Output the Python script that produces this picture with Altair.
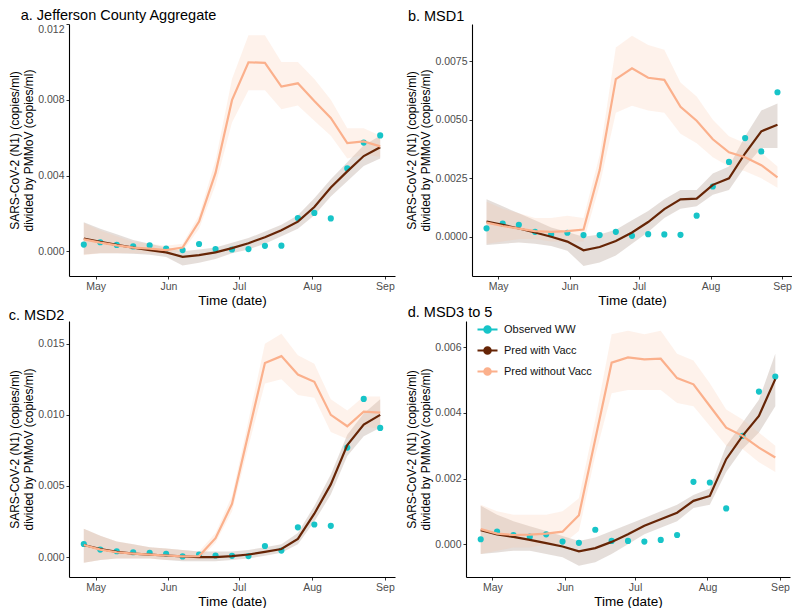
import altair as alt
import pandas as pd

dates = ["2021-04-26", "2021-05-03", "2021-05-10", "2021-05-17", "2021-05-24",
         "2021-05-31", "2021-06-07", "2021-06-14", "2021-06-21", "2021-06-28",
         "2021-07-05", "2021-07-12", "2021-07-19", "2021-07-26", "2021-08-02",
         "2021-08-09", "2021-08-16", "2021-08-23", "2021-08-30"]

series_names = ["Observed WW", "Pred with Vacc", "Pred without Vacc"]
series_colors = ["#17C4C8", "#662506", "#FBB08C"]
band_names = ["Pred with Vacc", "Pred without Vacc"]
band_colors = ["#8A6A58", "#FBC3A3"]

# ---- a. Jefferson County Aggregate
a_obs = [0.00036, 0.00048, 0.00034, 0.00026, 0.00032, 0.00015, 0.00007, 0.00039, 0.00012, 0.0001,
         0.00012, 0.00029, 0.0003, 0.00176, 0.00203, 0.00174, 0.00438, 0.00574, 0.00612]
a_with = [0.00068, 0.0005, 0.00034, 0.0002, 0.00007, -0.00005, -0.00029, -0.0002, -0.00005, 0.00017,
          0.00043, 0.00075, 0.00111, 0.00157, 0.00234, 0.00337, 0.00422, 0.00503, 0.0055]
a_with_lo = [-0.00017, -0.0001, -0.0001, -0.00012, -0.00018, -0.0003, -0.00075, -0.0006, -0.0004, -0.0001,
             0.0001, 0.0004, 0.0008, 0.0012, 0.0019, 0.0029, 0.0037, 0.0045, 0.0049]
a_with_hi = [0.00154, 0.0012, 0.0009, 0.0006, 0.0004, 0.0002, 0.0, 0.0001, 0.0002, 0.00045,
             0.0007, 0.00105, 0.0014, 0.0019, 0.0028, 0.0038, 0.0047, 0.0056, 0.0061]
a_wo = [0.00063, 0.00046, 0.00032, 0.0002, 0.00014, 0.00007, 0.0002, 0.00157, 0.00414, 0.00798,
        0.00998, 0.00995, 0.0087, 0.00887, 0.00793, 0.00704, 0.00571, 0.0058, 0.00554]
a_wo_lo = [-0.0002, -0.0001, -0.0001, -0.0001, -0.0001, -0.0001, 0.0, 0.0012, 0.0035, 0.0068,
           0.0085, 0.0085, 0.0075, 0.0077, 0.0069, 0.0061, 0.0049, 0.0051, 0.0050]
a_wo_hi = [0.0015, 0.0011, 0.0008, 0.0005, 0.0004, 0.0003, 0.0004, 0.0019, 0.0048, 0.0091,
           0.0114, 0.0114, 0.0100, 0.0100, 0.0091, 0.0080, 0.0065, 0.0065, 0.0061]

# ---- b. MSD1
b_obs = [0.00036, 0.00056, 0.00051, 0.00021, 0.00011, 0.00017, 0.00007, 0.00007, 0.00021, 0.00004,
         0.00011, 0.0001, 0.00008, 0.0009, 0.00215, 0.0032, 0.00422, 0.00365, 0.00618]
b_with = [0.00065, 0.00051, 0.00035, 0.00018, 0.0, -0.00021, -0.00058, -0.00044, -0.00018, 0.00018,
          0.00063, 0.00118, 0.0016, 0.00163, 0.00222, 0.0025, 0.00357, 0.00451, 0.00479]
b_with_lo = [-0.00035, -0.0003, -0.00025, -0.0003, -0.0004, -0.0006, -0.00125, -0.0011, -0.0008, -0.0003,
             0.0002, 0.0008, 0.0012, 0.0013, 0.0018, 0.0020, 0.0030, 0.0038, 0.0038]
b_with_hi = [0.0016, 0.0013, 0.001, 0.0007, 0.0004, 0.0002, 0.0, 0.0001, 0.0003, 0.0007,
             0.0011, 0.0016, 0.0020, 0.0020, 0.0027, 0.0030, 0.0043, 0.0054, 0.0057]
b_wo = [0.0006, 0.00046, 0.00035, 0.00024, 0.00021, 0.00024, 0.00031, 0.00285, 0.00674, 0.0072,
        0.0068, 0.00671, 0.00556, 0.00496, 0.00417, 0.00361, 0.0034, 0.00306, 0.00254]
b_wo_lo = [-0.0003, -0.0002, -0.0001, -0.0001, -0.0002, -0.0002, -0.0002, 0.0022, 0.0053, 0.0056,
           0.0054, 0.0053, 0.0044, 0.0040, 0.0034, 0.0030, 0.0028, 0.0025, 0.0021]
b_wo_hi = [0.0015, 0.0012, 0.0010, 0.0008, 0.0008, 0.0009, 0.0008, 0.0035, 0.0081, 0.0086,
           0.0082, 0.0080, 0.0066, 0.0060, 0.0050, 0.0043, 0.0040, 0.0036, 0.0030]

# ---- c. MSD2
c_obs = [0.00092, 0.00053, 0.00041, 0.00034, 0.0003, 0.00023, 0.00005, 0.00018, 0.00011, 0.00009,
         0.00007, 0.00078, 0.00046, 0.00209, 0.00229, 0.0022, 0.0077, 0.01112, 0.00908]
c_with = [0.00085, 0.00057, 0.00037, 0.00025, 0.00018, 0.00011, 0.00005, 0.0, 0.0, 0.00007,
          0.00018, 0.00037, 0.00057, 0.00128, 0.00305, 0.00511, 0.00787, 0.00931, 0.0100]
c_with_lo = [-0.0004, -0.0002, -0.0001, -0.0001, -0.0001, -0.0002, -0.0003, -0.0003, -0.0003, -0.0002,
             -0.0001, 0.0001, 0.0003, 0.0009, 0.0025, 0.0044, 0.0071, 0.0085, 0.0091]
c_with_hi = [0.0020, 0.0015, 0.0011, 0.0009, 0.0007, 0.0006, 0.0005, 0.0004, 0.0004, 0.0004,
             0.0005, 0.0007, 0.0009, 0.0017, 0.0036, 0.0058, 0.0086, 0.0101, 0.0111]
c_wo = [0.00085, 0.00053, 0.00034, 0.00025, 0.00018, 0.00011, 0.00005, 0.00007, 0.00133, 0.00374,
        0.0087, 0.01365, 0.01413, 0.01284, 0.01232, 0.0100, 0.0092, 0.01023, 0.01016]
c_wo_lo = [-0.0004, -0.0002, -0.0001, -0.0001, -0.0001, -0.0002, -0.0002, -0.0002, 0.0010, 0.0032,
           0.0078, 0.0122, 0.0125, 0.0114, 0.0112, 0.0088, 0.0083, 0.0092, 0.0090]
c_wo_hi = [0.0020, 0.0015, 0.0011, 0.0009, 0.0007, 0.0006, 0.0005, 0.0004, 0.0017, 0.0043,
           0.0096, 0.0150, 0.0157, 0.0142, 0.0136, 0.0111, 0.0103, 0.0113, 0.0113]

# ---- d. MSD3 to 5
d_obs = [0.00015, 0.00038, 0.00028, 0.00023, 0.0003, 0.00008, 0.00004, 0.00044, 0.0001, 0.0001,
         0.00008, 0.00013, 0.00028, 0.0019, 0.00188, 0.00109, 0.0033, 0.00465, 0.00511]
d_with = [0.00043, 0.0003, 0.00022, 0.00013, 0.00003, -0.00007, -0.00022, -0.00012, 0.00007, 0.0003,
          0.00056, 0.00076, 0.00096, 0.00132, 0.00147, 0.00259, 0.0033, 0.00391, 0.00503]
d_with_lo = [-0.0003, -0.00025, -0.0002, -0.0002, -0.0003, -0.0004, -0.00066, -0.00055, -0.0003, 0.0,
             0.0003, 0.0005, 0.0007, 0.0011, 0.0012, 0.0022, 0.0029, 0.0034, 0.0042]
d_with_hi = [0.00117, 0.0009, 0.0007, 0.00055, 0.0004, 0.00025, 0.0001, 0.0002, 0.0004, 0.0006,
             0.0008, 0.0010, 0.0012, 0.0015, 0.0017, 0.0030, 0.0037, 0.0044, 0.0058]
d_wo = [0.00046, 0.00032, 0.00028, 0.00029, 0.00032, 0.00038, 0.00088, 0.0032, 0.00553, 0.00569,
        0.00563, 0.00565, 0.00506, 0.00487, 0.00421, 0.00355, 0.0033, 0.00294, 0.00264]
d_wo_lo = [-0.0003, -0.0002, -0.0001, -0.0001, 0.0, 0.0, 0.0004, 0.0027, 0.0046, 0.0047,
           0.0047, 0.0047, 0.0043, 0.0042, 0.0036, 0.0030, 0.0029, 0.0025, 0.0022]
d_wo_hi = [0.0012, 0.0010, 0.0009, 0.0009, 0.0009, 0.0010, 0.0014, 0.0038, 0.0064, 0.0065,
           0.0064, 0.0065, 0.0058, 0.0056, 0.0049, 0.0041, 0.0038, 0.0034, 0.0030]

panel_titles = ["a. Jefferson County Aggregate", "b. MSD1", "c. MSD2", "d. MSD3 to 5"]
y_ticks = [[0.0, 0.004, 0.008, 0.012], [0.0, 0.0025, 0.005, 0.0075],
           [0.0, 0.005, 0.010, 0.015], [0.0, 0.002, 0.004, 0.006]]
y_formats = [".3f", ".4f", ".3f", ".3f"]
y_domains = [[-0.0013, 0.0120], [-0.00168, 0.0091], [-0.0014, 0.0166], [-0.0010, 0.0068]]
x_tick_dates = ["2021-05-01", "2021-06-01", "2021-07-01", "2021-08-01", "2021-09-01"]

panels = [
    (a_obs, a_with, a_with_lo, a_with_hi, a_wo, a_wo_lo, a_wo_hi),
    (b_obs, b_with, b_with_lo, b_with_hi, b_wo, b_wo_lo, b_wo_hi),
    (c_obs, c_with, c_with_lo, c_with_hi, c_wo, c_wo_lo, c_wo_hi),
    (d_obs, d_with, d_with_lo, d_with_hi, d_wo, d_wo_lo, d_wo_hi),
]


def to_dt(s):
    y, m, d = s.split("-")
    return alt.DateTime(year=int(y), month=int(m), date=int(d), utc=True)


color_scale = alt.Scale(domain=series_names, range=series_colors)
band_scale = alt.Scale(domain=band_names, range=band_colors)

legend_path = "M-1 0 L1 0 M0.32 0 A0.32 0.32 0 1 1 -0.32 0 A0.32 0.32 0 1 1 0.32 0 Z"

x_domain = [alt.DateTime(year=2021, month=4, date=19, hours=17, utc=True),
            alt.DateTime(year=2021, month=9, date=5, hours=7, utc=True)]

sizes = [(326, 252), (320, 252), (326, 256), (324, 256)]
title_dx = [12, 2, 0, 2]
title_offsets = [0, 0, -2, -2]


def make_legend(i):
    if i == 3:
        return alt.Legend(title=None, orient="none", legendX=10, legendY=-3, padding=0,
                          symbolType=legend_path, symbolSize=400, symbolStrokeWidth=2.2,
                          labelFontSize=11, labelColor="#111111",
                          labelFont="Liberation Sans", rowPadding=1, labelOffset=5)
    return None


def make_panel(i):
    obs, w, wlo, whi, wo, wolo, wohi = panels[i]
    rows = []
    for k, dt in enumerate(dates):
        rows.append({"date": dt, "series": series_names[0], "value": obs[k], "lo": None, "hi": None})
        rows.append({"date": dt, "series": series_names[1], "value": w[k], "lo": wlo[k], "hi": whi[k]})
        rows.append({"date": dt, "series": series_names[2], "value": wo[k], "lo": wolo[k], "hi": wohi[k]})
    df = pd.DataFrame(rows)

    x = alt.X("date:T", title="Time (date)",
              scale=alt.Scale(type="utc", domain=x_domain, nice=False),
              axis=alt.Axis(values=[to_dt(s) for s in x_tick_dates],
                            labelExpr="utcFormat(datum.value, '%b')",
                            titleFontSize=13.5, titlePadding=2))
    yaxis = alt.Axis(values=y_ticks[i], format=y_formats[i],
                     title=["SARS-CoV-2 (N1) (copies/ml)", "divided by PMMoV (copies/ml)"],
                     titleFontSize=12, titlePadding=2, titleLineHeight=14,
                     labelFlush=(i == 0))
    yscale = alt.Scale(domain=y_domains[i], nice=False, zero=False)

    leg = make_legend(i)

    base = alt.Chart(df)
    preds = base.transform_filter(alt.datum.series != series_names[0])

    band = preds.mark_area(opacity=0.22).encode(
        x=x,
        y=alt.Y("lo:Q", scale=yscale, axis=yaxis),
        y2="hi:Q",
        color=alt.Color("series:N", scale=band_scale, legend=None),
    )
    pts = base.transform_filter(alt.datum.series == series_names[0]).mark_circle(
        size=38, opacity=1).encode(
        x=x,
        y=alt.Y("value:Q", scale=yscale, axis=yaxis),
        fill=alt.Fill("series:N", scale=color_scale, legend=leg),
    )
    line = preds.mark_line(strokeWidth=2.2).encode(
        x=x,
        y=alt.Y("value:Q", scale=yscale, axis=yaxis),
        stroke=alt.Stroke("series:N", scale=color_scale, legend=leg),
    )
    w_, h_ = sizes[i]
    return alt.layer(band, pts, line).properties(
        width=w_, height=h_,
        title=alt.TitleParams(panel_titles[i], anchor="start", frame="bounds",
                              fontSize=14.5, fontWeight="normal", color="#000000",
                              font="Liberation Sans", offset=title_offsets[i],
                              dx=title_dx[i]),
    )


row1 = alt.hconcat(make_panel(0), make_panel(1), spacing=10).resolve_scale(
    color="independent", fill="independent", stroke="independent")
row2 = alt.hconcat(make_panel(2), make_panel(3), spacing=10).resolve_scale(
    color="independent", fill="independent", stroke="independent")
chart = alt.vconcat(row1, row2, spacing=-3).resolve_scale(
    color="independent", fill="independent", stroke="independent"
).properties(padding=0).configure_view(
    stroke=None
).configure_axis(
    grid=False, domainColor="#000000", domainWidth=1.1, tickColor="#333333",
    tickSize=3, tickWidth=1, labelColor="#4D4D4D", labelFontSize=10.5,
    labelFont="Liberation Sans", titleFont="Liberation Sans", titleColor="#000000",
    titleFontWeight="normal", labelPadding=2
).configure_axisY(
    titleFontSize=12
)

chart.save("out.html", embed_options={"renderer": "svg", "actions": False})
